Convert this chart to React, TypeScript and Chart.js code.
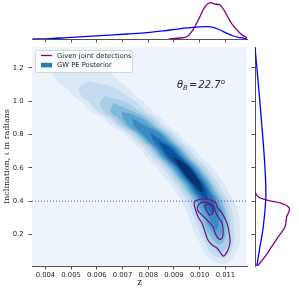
import React, { useEffect, useRef } from 'react';
import { Chart, registerables } from 'chart.js';
Chart.register(...registerables);

// ---------- data ----------
const zTicks = [0.004, 0.005, 0.006, 0.007, 0.008, 0.009, 0.01, 0.011];
const iotaTicks = [0.2, 0.4, 0.6, 0.8, 1.0, 1.2];
const zRange = [0.00348, 0.01184];
const iotaRange = [0.01, 1.326];
const thetaCut = 0.4;
const legendLabels = ['Given joint detections', 'GW PE Posterior'];
const thetaLabel = { sym: 'θ', sub: 'B', eq: '=', val: '22.7', sup: 'o' };

// ridge of the GW PE posterior density (z, iota)
const ridgeZ = [0.00474, 0.00524, 0.00567, 0.00601, 0.00631, 0.00666, 0.00696, 0.00736, 0.0077, 0.00807, 0.0084, 0.0087, 0.00896, 0.00923, 0.00947, 0.00971, 0.00992, 0.01011, 0.01029, 0.01052, 0.01065, 0.01073, 0.01079, 0.0108, 0.01081, 0.01091];
const ridgeIota = [1.29, 1.21, 1.12, 1.08, 1.03, 0.99, 0.94, 0.9, 0.85, 0.81, 0.76, 0.72, 0.67, 0.63, 0.59, 0.54, 0.5, 0.45, 0.41, 0.32, 0.23, 0.18, 0.14, 0.09, 0.06, 0.02];
// half widths (in z) of each density level along the ridge
const level1HW = [0, 0.00097, 0.0012, 0.0012, 0.0012, 0.0012, 0.00119, 0.00114, 0.0011, 0.00107, 0.00104, 0.00105, 0.00106, 0.00107, 0.00107, 0.00106, 0.00105, 0.00103, 0.00101, 0.00099, 0.00091, 0.00083, 0.00075, 0.00062, 0.00049, 0];
const level2HW = [null, null, 0, 0.0007, 0.00089, 0.00093, 0.00093, 0.00091, 0.00089, 0.00087, 0.00085, 0.00085, 0.00085, 0.00085, 0.00085, 0.00085, 0.00083, 0.00081, 0.00081, 0.00078, 0.0007, 0.00062, 0.00054, 0.00039, 0, null];
const level3HW = [null, null, null, null, 0, 0.00054, 0.0007, 0.00074, 0.00074, 0.00072, 0.0007, 0.0007, 0.0007, 0.0007, 0.0007, 0.0007, 0.00068, 0.00066, 0.00066, 0.00062, 0.00054, 0.00047, 0.00035, 0, null, null];
const level4HW = [null, null, null, null, null, 0, 0.00043, 0.00054, 0.00058, 0.00058, 0.00058, 0.00058, 0.00058, 0.00058, 0.00058, 0.00058, 0.00056, 0.00054, 0.00054, 0.0005, 0.00039, 0.00027, 0, null, null, null];
const level5HW = [null, null, null, null, null, null, 0, 0.00035, 0.00045, 0.00047, 0.00047, 0.00047, 0.00049, 0.00049, 0.00049, 0.00049, 0.00047, 0.00045, 0.00043, 0.00039, 0.00023, 0, null, null, null, null];
const level6HW = [null, null, null, null, null, null, null, 0, 0.00023, 0.00035, 0.00037, 0.00039, 0.00039, 0.00039, 0.00039, 0.00039, 0.00037, 0.00035, 0.00033, 0.00023, 0, null, null, null, null, null];
const level7HW = [null, null, null, null, null, null, null, null, null, 0, 0.00019, 0.00027, 0.00029, 0.00031, 0.00031, 0.00031, 0.00029, 0.00027, 0.00023, 0, null, null, null, null, null, null];
const level8HW = [null, null, null, null, null, null, null, null, null, null, 0, 0.00016, 0.00021, 0.00023, 0.00023, 0.00023, 0.00021, 0.00016, 0, null, null, null, null, null, null, null];
const level9HW = [null, null, null, null, null, null, null, null, null, null, null, null, 0, 0.00014, 0.00019, 0.00019, 0.00014, 0, null, null, null, null, null, null, null, null];

// given joint detections contours [z, iota]
const givenOuter = [[0.00978, 0.387], [0.00982, 0.399], [0.01001, 0.411], [0.01032, 0.411], [0.0106, 0.393], [0.01071, 0.358], [0.01087, 0.328], [0.01106, 0.268], [0.01114, 0.214], [0.01118, 0.154], [0.0111, 0.106], [0.01098, 0.076], [0.01091, 0.07], [0.01079, 0.094], [0.01067, 0.118], [0.01048, 0.136], [0.01032, 0.166], [0.01021, 0.214], [0.01009, 0.268], [0.00994, 0.304], [0.00982, 0.358]];
const givenMiddle = [[0.0099, 0.358], [0.01001, 0.387], [0.01029, 0.393], [0.01052, 0.375], [0.0106, 0.346], [0.01067, 0.316], [0.01087, 0.268], [0.01091, 0.208], [0.01087, 0.178], [0.01075, 0.172], [0.0106, 0.208], [0.01052, 0.244], [0.01029, 0.286], [0.01009, 0.316], [0.00994, 0.34]];
const givenInner = [[0.01021, 0.375], [0.01032, 0.384], [0.01048, 0.364], [0.01052, 0.334], [0.0104, 0.316], [0.01029, 0.34], [0.01021, 0.364]];

// marginal densities
const topGivenZ = [0.0088, 0.00912, 0.0095, 0.00974, 0.01001, 0.01021, 0.0104, 0.0106, 0.01079, 0.01098, 0.01124, 0.01157, 0.01183];
const topGivenDens = [0, 0.02, 0.06, 0.24, 0.59, 0.85, 0.955, 0.92, 0.895, 0.72, 0.41, 0.15, 0.035];
const topPostZ = [0.0035, 0.00419, 0.00485, 0.00613, 0.00718, 0.00807, 0.00885, 0.00963, 0.01029, 0.01052, 0.01079, 0.01106, 0.0113, 0.01157, 0.01184];
const topPostDens = [0, 0.01, 0.035, 0.087, 0.132, 0.177, 0.237, 0.297, 0.324, 0.308, 0.237, 0.149, 0.079, 0.034, 0.008];
const rightPostIota = [1.323, 1.104, 0.865, 0.665, 0.505, 0.405, 0.246, 0.126, 0.006];
const rightPostDens = [0, 0.077, 0.156, 0.216, 0.249, 0.249, 0.193, 0.116, 0.039];
const rightGivenIota = [0.455, 0.425, 0.405, 0.386, 0.365, 0.346, 0.305, 0.246, 0.186, 0.126, 0.066, 0.016, 0.0];
const rightGivenDens = [0, 0.077, 0.309, 0.621, 0.78, 0.8, 0.737, 0.698, 0.542, 0.388, 0.233, 0.077, 0.02];

// ---------- styles ----------
const levelColors = ['#edf4fc', '#dbe9f6', '#c6dbef', '#a9cfe5', '#82badb', '#5ba3d0', '#3a8ac2', '#1f6eb3', '#0b539e', '#08336e'];
const levelHWs = [level1HW, level2HW, level3HW, level4HW, level5HW, level6HW, level7HW, level8HW, level9HW];
const INK = '#262626';
const PURPLE = '#800080';
const CONTOUR = 'rgb(100,20,130)';
const PATCH = '#2a7ab9';

Chart.defaults.font.family = '"DejaVu Sans"';

function levelPolygon(hw: (number | null)[]) {
  const idx: number[] = [];
  hw.forEach((w, i) => { if (w !== null) idx.push(i); });
  const a = idx[0], b = idx[idx.length - 1];
  const pts: { x: number; y: number }[] = [];
  for (let i = a; i <= b; i++) pts.push({ x: ridgeZ[i] - (hw[i] as number), y: ridgeIota[i] });
  for (let i = b - 1; i >= a; i--) pts.push({ x: ridgeZ[i] + (hw[i] as number), y: ridgeIota[i] });
  return pts;
}

const closed = (arr: number[][]) => [...arr, arr[0]].map(([x, y]) => ({ x, y }));
const zip = (xs: number[], ys: number[]) => xs.map((x, i) => ({ x, y: ys[i] }));

const axisGrid = { drawOnChartArea: false, drawTicks: true, tickLength: 3.5, tickColor: INK, tickWidth: 0.8 };
const axisBorder = { display: true, color: INK, width: 0.8 };

const bgPlugin = {
  id: 'bg',
  beforeDatasetsDraw(chart: any) {
    const { ctx, chartArea: ca } = chart;
    ctx.save();
    ctx.fillStyle = levelColors[0];
    ctx.fillRect(ca.left, ca.top, ca.right - ca.left, ca.bottom - ca.top);
    ctx.restore();
  },
};

const overlayPlugin = {
  id: 'overlay',
  afterDatasetsDraw(chart: any) {
    const { ctx, chartArea: ca } = chart;
    ctx.save();
    // legend
    const bx = ca.left + 3, by = ca.top + 3, bw = 97, bh = 22;
    ctx.beginPath();
    (ctx as any).roundRect(bx + 0.5, by + 0.5, bw, bh, 2);
    ctx.fillStyle = 'rgba(255,255,255,0.8)';
    ctx.fill();
    ctx.strokeStyle = '#cccccc';
    ctx.lineWidth = 0.8;
    ctx.stroke();
    ctx.strokeStyle = PURPLE;
    ctx.lineWidth = 1.3;
    ctx.beginPath();
    ctx.moveTo(bx + 6, by + 5.5);
    ctx.lineTo(bx + 17, by + 5.5);
    ctx.stroke();
    ctx.fillStyle = PATCH;
    ctx.fillRect(bx + 6, by + 12.8, 11, 4.6);
    ctx.fillStyle = INK;
    ctx.font = '6.8px "DejaVu Sans"';
    ctx.textBaseline = 'middle';
    ctx.textAlign = 'left';
    ctx.fillText(legendLabels[0], bx + 22, by + 5.8);
    ctx.fillText(legendLabels[1], bx + 22, by + 15.3);
    // theta annotation
    let x = ca.left + 145;
    const y = ca.top + 41;
    const big = 'italic 10px "DejaVu Sans"';
    const small = 'italic 7px "DejaVu Sans"';
    ctx.textBaseline = 'alphabetic';
    ctx.font = big;
    ctx.fillText(thetaLabel.sym, x, y);
    x += ctx.measureText(thetaLabel.sym).width;
    ctx.font = small;
    ctx.fillText(thetaLabel.sub, x, y + 2.3);
    x += ctx.measureText(thetaLabel.sub).width + 1;
    ctx.font = '10px "DejaVu Sans"';
    ctx.fillText(thetaLabel.eq, x, y);
    x += ctx.measureText(thetaLabel.eq).width + 1;
    ctx.font = big;
    ctx.fillText(thetaLabel.val, x, y);
    x += ctx.measureText(thetaLabel.val).width + 0.3;
    ctx.font = small;
    ctx.fillText(thetaLabel.sup, x, y - 4.5);
    ctx.restore();
  },
};

export default function App() {
  const mainRef = useRef<HTMLCanvasElement>(null);
  const topRef = useRef<HTMLCanvasElement>(null);
  const rightRef = useRef<HTMLCanvasElement>(null);

  useEffect(() => {
    const charts: Chart[] = [];

    const levelSets = levelHWs.map((hw, k) => ({
      data: levelPolygon(hw),
      showLine: true,
      fill: 'shape',
      backgroundColor: levelColors[k + 1],
      borderColor: 'rgba(0,0,0,0)',
      borderWidth: 0,
      pointRadius: 0,
      tension: 0.4,
      order: 100 - k,
    }));
    const contourSets = [givenOuter, givenMiddle, givenInner].map((c) => ({
      data: closed(c),
      showLine: true,
      fill: false,
      borderColor: CONTOUR,
      borderWidth: 1.2,
      pointRadius: 0,
      tension: 0.4,
      order: 1,
    }));
    const cutSet = {
      data: [{ x: zRange[0], y: thetaCut }, { x: zRange[1], y: thetaCut }],
      showLine: true,
      fill: false,
      borderColor: '#555555',
      borderWidth: 1,
      borderDash: [1, 2],
      pointRadius: 0,
      order: 2,
    };

    charts.push(new Chart(mainRef.current!, {
      type: 'scatter',
      data: { datasets: [...contourSets, cutSet, ...levelSets] as any },
      options: {
        responsive: false,
        animation: false,
        layout: { padding: { top: 47, right: 3, left: 0, bottom: 0 } },
        plugins: { legend: { display: false }, tooltip: { enabled: false } },
        scales: {
          x: {
            type: 'linear', min: zRange[0], max: zRange[1], z: 1,
            afterBuildTicks: (s: any) => { s.ticks = zTicks.map((v) => ({ value: v })); },
            afterFit: (s: any) => { s.height = 27; },
            ticks: { callback: (v: any) => Number(v).toFixed(3), font: { size: 6.8 }, color: INK, padding: 2, maxRotation: 0, autoSkip: false },
            grid: axisGrid, border: axisBorder,
            title: { display: true, text: 'z', font: { family: '"DejaVu Serif"', size: 9 }, color: INK, padding: { top: 0, bottom: 4.6 } },
          },
          y: {
            type: 'linear', min: iotaRange[0], max: iotaRange[1], z: 1,
            afterBuildTicks: (s: any) => { s.ticks = iotaTicks.map((v) => ({ value: v })); },
            afterFit: (s: any) => { s.width = 32; },
            ticks: { callback: (v: any) => Number(v).toFixed(1), font: { size: 6.8 }, color: INK, padding: 5 },
            grid: axisGrid, border: axisBorder,
            title: { display: true, text: 'Inclination, ι in radians', font: { family: '"DejaVu Serif"', size: 8 }, color: INK, padding: { top: 2.5, bottom: 0 } },
          },
        },
      } as any,
      plugins: [bgPlugin, overlayPlugin],
    }));

    const margLine = (color: string) => ({ showLine: true, fill: false, borderColor: color, borderWidth: 1.3, pointRadius: 0, tension: 0.4 });

    charts.push(new Chart(topRef.current!, {
      type: 'scatter',
      data: {
        datasets: [
          { data: zip(topGivenZ, topGivenDens), ...margLine(PURPLE) },
          { data: zip(topPostZ, topPostDens), ...margLine('blue') },
        ] as any,
      },
      options: {
        responsive: false,
        animation: false,
        layout: { padding: { top: 1, right: 3, left: 32, bottom: 0 } },
        plugins: { legend: { display: false }, tooltip: { enabled: false } },
        scales: {
          x: {
            type: 'linear', min: zRange[0], max: zRange[1],
            afterBuildTicks: (s: any) => { s.ticks = zTicks.map((v) => ({ value: v })); },
            afterFit: (s: any) => { s.height = 4; },
            ticks: { display: false },
            grid: axisGrid, border: axisBorder,
          },
          y: { display: false, min: 0, max: 1 },
        },
      } as any,
    }));

    charts.push(new Chart(rightRef.current!, {
      type: 'scatter',
      data: {
        datasets: [
          { data: zip(rightGivenDens, rightGivenIota), ...margLine(PURPLE) },
          { data: zip(rightPostDens, rightPostIota), ...margLine('blue') },
        ] as any,
      },
      options: {
        responsive: false,
        animation: false,
        layout: { padding: { top: 47, right: 1, left: 0, bottom: 27 } },
        plugins: { legend: { display: false }, tooltip: { enabled: false } },
        scales: {
          x: { display: false, min: 0, max: 1 },
          y: {
            type: 'linear', position: 'left', min: iotaRange[0], max: iotaRange[1],
            afterBuildTicks: (s: any) => { s.ticks = iotaTicks.map((v) => ({ value: v })); },
            afterFit: (s: any) => { s.width = 5; },
            ticks: { display: false },
            grid: axisGrid, border: axisBorder,
          },
        },
      } as any,
    }));

    return () => charts.forEach((c) => c.destroy());
  }, []);

  return (
    <div style={{ position: 'fixed', left: 0, top: 0, width: 299, height: 293, background: '#ffffff' }}>
      <canvas ref={mainRef} width={250} height={293} style={{ position: 'absolute', left: 0, top: 0 }} />
      <canvas ref={topRef} width={250} height={43} style={{ position: 'absolute', left: 0, top: 0 }} />
      <canvas ref={rightRef} width={49} height={293} style={{ position: 'absolute', left: 250, top: 0 }} />
    </div>
  );
}
